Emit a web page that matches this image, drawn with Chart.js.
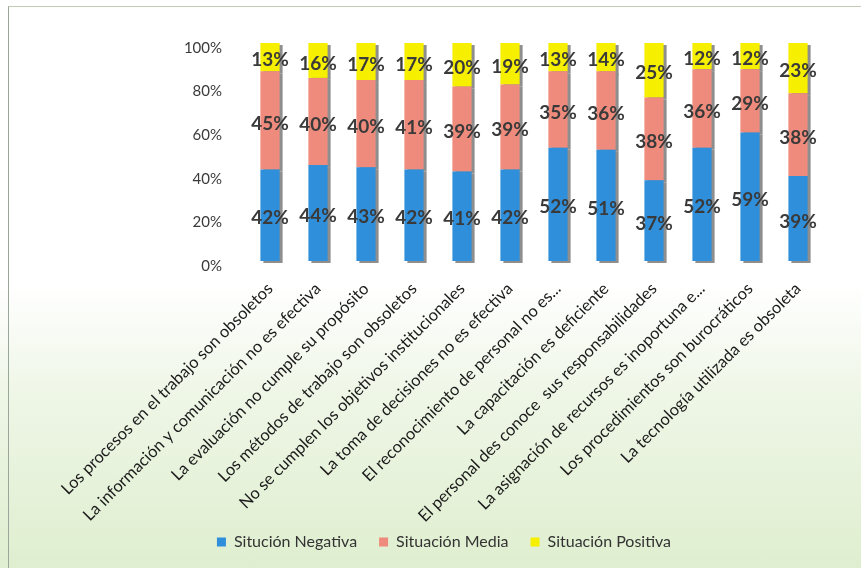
<!DOCTYPE html>
<html><head><meta charset="utf-8">
<script src="https://cdn.jsdelivr.net/npm/chart.js@4.4.0/dist/chart.umd.min.js"></script>
<style>
html,body{margin:0;padding:0;width:861px;height:568px;overflow:hidden;}
body{background:linear-gradient(to bottom,#ffffff 0%,#ffffff 50%,#eef6e6 70%,#dfeecf 100%);position:relative;}
#frame{position:absolute;left:8px;top:6px;width:900px;height:600px;border-left:1px solid #9aa69a;border-top:1px solid #c2ccb8;}
canvas{position:absolute;left:0;top:0;}
</style></head><body>
<div id="frame"></div>
<canvas id="c" width="861" height="568"></canvas>
<script>
const categories = [
  "Los procesos en el trabajo son obsoletos",
  "La información y comunicación no es efectiva",
  "La evaluación no cumple su propósito",
  "Los métodos de trabajo son obsoletos",
  "No se cumplen los objetivos institucionales",
  "La toma de decisiones no es efectiva",
  "El reconocimiento de personal no es...",
  "La capacitación es deficiente",
  "El personal des conoce  sus responsabilidades",
  "La asignación de recursos es inoportuna e...",
  "Los procedimientos son burocráticos",
  "La tecnología utilizada es obsoleta"
];
const negativa = [42, 44, 43, 42, 41, 42, 52, 51, 37, 52, 59, 39];
const media    = [45, 40, 40, 41, 39, 39, 35, 36, 38, 36, 29, 38];
const positiva = [13, 16, 17, 17, 20, 19, 13, 14, 25, 12, 12, 23];
const seriesNames = ["Situción Negativa", "Situación Media", "Situación Positiva"];
const yTicks = [0, 20, 40, 60, 80, 100];

const FONT = "Lato, 'Open Sans', 'DejaVu Sans', sans-serif";

const shadowPlugin = {
  id: 'shadow3d',
  beforeDatasetsDraw(chart) {
    const ctx = chart.ctx;
    ctx.save();
    chart.data.datasets.forEach((ds, di) => {
      const meta = chart.getDatasetMeta(di);
      meta.data.forEach(bar => {
        const w = bar.width;
        const top = Math.min(bar.y, bar.base);
        const h = Math.abs(bar.base - bar.y);
        ctx.fillStyle = '#8e8e8e';
        ctx.fillRect(bar.x - w / 2 + 3, Math.max(top + 2, chart.chartArea.top + 2), w, h);
      });
    });
    ctx.restore();
  }
};

const labelPlugin = {
  id: 'segLabels',
  afterDatasetsDraw(chart) {
    const ctx = chart.ctx;
    ctx.save();
    ctx.font = "700 19px " + FONT;
    ctx.fillStyle = '#3a3a3a';
    ctx.textAlign = 'center';
    ctx.textBaseline = 'middle';
    chart.data.datasets.forEach((ds, di) => {
      const meta = chart.getDatasetMeta(di);
      meta.data.forEach((bar, i) => {
        const top = Math.max(bar.y, chart.chartArea.top);
        const y = (top + bar.base) / 2 + 3;
        ctx.fillText(ds.data[i] + '%', bar.x, y);
      });
    });
    ctx.restore();
  }
};

const layoutTweak = {
  id: 'layoutTweak',
  afterLayout(chart) {
    if (chart.legend) {
      chart.legend.left += 33;
      chart.legend.right += 33;
    }
    // let rotated tick labels extend into the space beside the legend
    if (chart.scales.x) {
      chart.scales.x.bottom = chart.height;
    }
  }
};

new Chart(document.getElementById('c'), {
  type: 'bar',
  data: {
    labels: categories,
    datasets: [
      { label: seriesNames[0], data: negativa, backgroundColor: '#2f8fdb' },
      { label: seriesNames[1], data: media, backgroundColor: '#ef8b7c' },
      { label: seriesNames[2], data: positiva, backgroundColor: '#f6ef00' }
    ]
  },
  options: {
    responsive: false,
    animation: false,
    devicePixelRatio: 1,
    layout: { padding: { top: 43, right: 39, bottom: 8, left: 0 } },
    datasets: { bar: { barPercentage: 0.40, categoryPercentage: 1 } },
    scales: {
      x: {
        stacked: true,
        grid: { display: false },
        border: { display: false },
        ticks: {
          autoSkip: false, maxRotation: 45, minRotation: 45, padding: 10,
          color: '#1a1a1a', font: { family: FONT, size: 16.5 }
        },
        afterFit(scale) { scale.height = 251; }
      },
      y: {
        stacked: true, min: 0, max: 100,
        grid: { display: false, drawTicks: false },
        border: { display: false },
        afterBuildTicks(scale) { scale.ticks = yTicks.map(v => ({ value: v })); },
        ticks: {
          padding: 24, labelOffset: 5,
          color: '#3a3a3a', font: { family: FONT, size: 15 },
          callback: v => v + '%'
        },
        afterFit(scale) { scale.width = 246; }
      }
    },
    plugins: {
      legend: {
        position: 'bottom',
        labels: {
          boxWidth: 9, boxHeight: 9, padding: 22,
          color: '#333333', font: { family: FONT, size: 16 }
        }
      },
      tooltip: { enabled: false }
    }
  },
  plugins: [shadowPlugin, labelPlugin, layoutTweak]
});
</script>
</body></html>
